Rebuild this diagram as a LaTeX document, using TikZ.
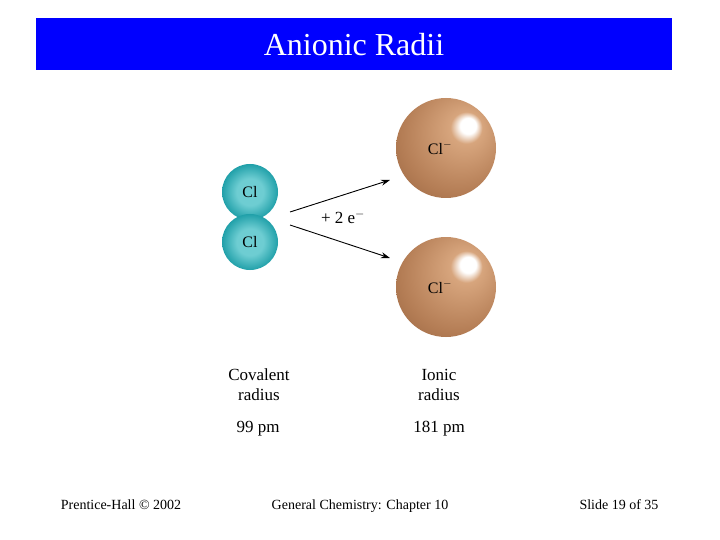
\documentclass[tikz,border=0pt]{standalone}
\usepackage{fontspec}
\setmainfont{Liberation Serif}
\definecolor{titleblue}{RGB}{0,0,255}
\definecolor{bl}{RGB}{215,165,125}
\definecolor{bm}{RGB}{180,125,85}
\definecolor{bd}{RGB}{125,78,45}
\definecolor{tl}{RGB}{110,205,210}
\definecolor{tm}{RGB}{15,150,160}
\definecolor{td}{RGB}{0,85,95}
\pgfdeclareradialshading{brownball}{\pgfpoint{12bp}{12bp}}{color(0bp)=(white);color(4bp)=(white);color(8bp)=(bl);color(28bp)=(bm);color(52bp)=(bd)}
\pgfdeclareradialshading{tealball}{\pgfpoint{0bp}{0bp}}{color(0bp)=(tl);color(12bp)=(tl);color(28bp)=(tm);color(47bp)=(td);color(50bp)=(td)}
\tikzset{lbl/.style={font=\fontsize{17}{20}\selectfont,align=center},
foot/.style={font=\fontsize{14}{16}\selectfont,anchor=base},
ball/.style={font=\fontsize{16}{18}\selectfont},
arr/.style={-{Stealth[length=9pt,width=6pt]},line width=0.9pt}}
\usetikzlibrary{arrows.meta}
\begin{document}
\begin{tikzpicture}[x=1pt,y=-1pt]
\useasboundingbox[fill=white] (0,0) rectangle (720,540);
\fill[titleblue] (36,18) rectangle (672,70);
\node[text=white,font=\fontsize{32}{34}\selectfont] (title) at (354,45) {Anionic Radii};
\shade[shading=tealball] (250,192) circle (28);
\node[ball] (cl1) at (250,192) {Cl};
\shade[shading=tealball] (250,242) circle (28);
\node[ball] (cl2) at (250,242) {Cl};
\shade[shading=brownball] (446,148) circle (50);
\node[ball] (a1) at (440,148) {Cl$^{-}$};
\shade[shading=brownball] (446,287) circle (50);
\node[ball] (a2) at (440,287) {Cl$^{-}$};
\coordinate (s1) at (290,212);
\coordinate (s2) at (290,225);
\coordinate (e1) at (390,180);
\coordinate (e2) at (390,258);
\draw[arr] (s1) -- (e1);
\draw[arr] (s2) -- (e2);
\node[font=\fontsize{17}{18}\selectfont] (el) at (343,217) {+ 2 e$^{-}$};
\node[lbl] (cov) at (259,385) {Covalent\\radius};
\node[lbl] (cv) at (258,429) {99 pm};
\node[lbl] (ion) at (439,385) {Ionic\\radius};
\node[lbl] (iv) at (439,429) {181 pm};
\node[foot] (f1) at (121,509) {Prentice-Hall © 2002};
\node[foot] (f2) at (360,509) {General Chemistry: Chapter 10};
\node[foot] (f3) at (619,509) {Slide 19 of 35};
\end{tikzpicture}
\end{document}
